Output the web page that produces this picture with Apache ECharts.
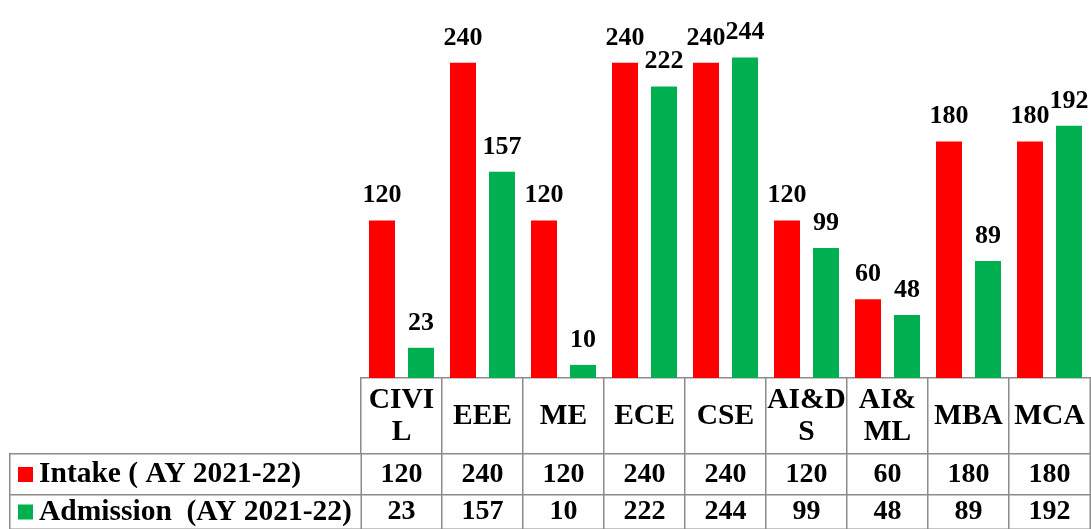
<!DOCTYPE html>
<html>
<head>
<meta charset="utf-8">
<script src="https://cdn.jsdelivr.net/npm/echarts@6/dist/echarts.min.js"></script>
<style>
  html, body { margin: 0; padding: 0; background: #fff; }
  #chart { width: 1091px; height: 529px; }
</style>
</head>
<body>
<div id="chart"></div>
<script>
// 数据
var categories = ['CIVIL', 'EEE', 'ME', 'ECE', 'CSE', 'AI&DS', 'AI&ML', 'MBA', 'MCA'];
var intake = [120, 240, 120, 240, 240, 120, 60, 180, 180];
var admission = [23, 157, 10, 222, 244, 99, 48, 89, 192];
var rowNames = ['Intake ( AY 2021-22)', 'Admission  (AY 2021-22)'];
var rowColors = ['#ff0000', '#00b050'];

var font = "'Liberation Serif', 'Times New Roman', serif";
var lineColor = '#8c8c8c';

var hiddenCat = function (data, grid) {
  return {
    type: 'category', gridIndex: grid, data: data,
    axisLine: { show: false }, axisTick: { show: false },
    axisLabel: { show: false }, splitLine: { show: false }, splitArea: { show: false }
  };
};

var cellStyle = { color: '#fff', borderColor: lineColor, borderWidth: 1.5 };
var tableLabel = {
  show: true, color: '#000', fontFamily: font, fontWeight: 'bold', fontSize: 28
};
var barLabel = {
  show: true, position: 'top', distance: 12, color: '#000',
  fontFamily: font, fontWeight: 'bold', fontSize: 26
};

// 表格：每行一个 grid（行高不同）
var rowValues = [intake, admission];
var rowTops = [454, 495];
var rowHeights = [41, 47];

var grids = [
  { left: 361, right: 1, top: 51, height: 327 },   // 柱状图
  { left: 361, right: 1, top: 378, height: 76 }    // 表头
];
var xAxes = [hiddenCat(categories, 0), hiddenCat(categories, 1)];
var yAxes = [
  { type: 'value', gridIndex: 0, min: 0, max: 249, show: false, splitLine: { show: false } },
  hiddenCat(['head'], 1)
];
var series = [
  {
    name: rowNames[0], type: 'bar', data: intake, barWidth: 26, barGap: '50%',
    itemStyle: { color: rowColors[0] }, label: barLabel
  },
  {
    name: rowNames[1], type: 'bar', data: admission, barWidth: 26, barGap: '50%',
    itemStyle: { color: rowColors[1] }, label: barLabel
  },
  {
    type: 'heatmap', xAxisIndex: 1, yAxisIndex: 1,
    data: categories.map(function (c, i) { return [i, 0, 0]; }),
    itemStyle: cellStyle, emphasis: { disabled: true },
    label: Object.assign({}, tableLabel, {
      fontSize: 29.5, width: 80, overflow: 'breakAll', lineHeight: 32, align: 'center',
      formatter: function (p) { return categories[p.data[0]]; }
    })
  }
];

rowNames.forEach(function (name, r) {
  // 数值格
  var g = grids.length;
  grids.push({ left: 361, right: 1, top: rowTops[r], height: rowHeights[r] });
  xAxes.push(hiddenCat(categories, g));
  yAxes.push(hiddenCat([name], g));
  series.push({
    type: 'heatmap', xAxisIndex: g, yAxisIndex: g,
    data: rowValues[r].map(function (v, i) { return [i, 0, v]; }),
    itemStyle: cellStyle, emphasis: { disabled: true },
    label: Object.assign({}, tableLabel, {
      formatter: function (p) { return p.data[2]; }
    })
  });
  // 行名格（带图例色块）
  g = grids.length;
  grids.push({ left: 10, width: 351, top: rowTops[r], height: rowHeights[r] });
  xAxes.push(hiddenCat(['name'], g));
  yAxes.push(hiddenCat([name], g));
  series.push({
    type: 'heatmap', xAxisIndex: g, yAxisIndex: g,
    data: [[0, 0, 0]],
    itemStyle: cellStyle, emphasis: { disabled: true },
    label: Object.assign({}, tableLabel, {
      position: 'insideLeft', distance: 9,
      formatter: '{m|}{t|' + name + '}',
      rich: {
        m: { width: 15, height: 15, backgroundColor: rowColors[r] },
        t: { fontFamily: font, fontWeight: 'bold', fontSize: 29.5, color: '#000', padding: [0, 0, 0, 6] }
      }
    })
  });
});

var chart = echarts.init(document.getElementById('chart'));
chart.setOption({
  animation: false,
  grid: grids,
  xAxis: xAxes,
  yAxis: yAxes,
  series: series
});
</script>
</body>
</html>
